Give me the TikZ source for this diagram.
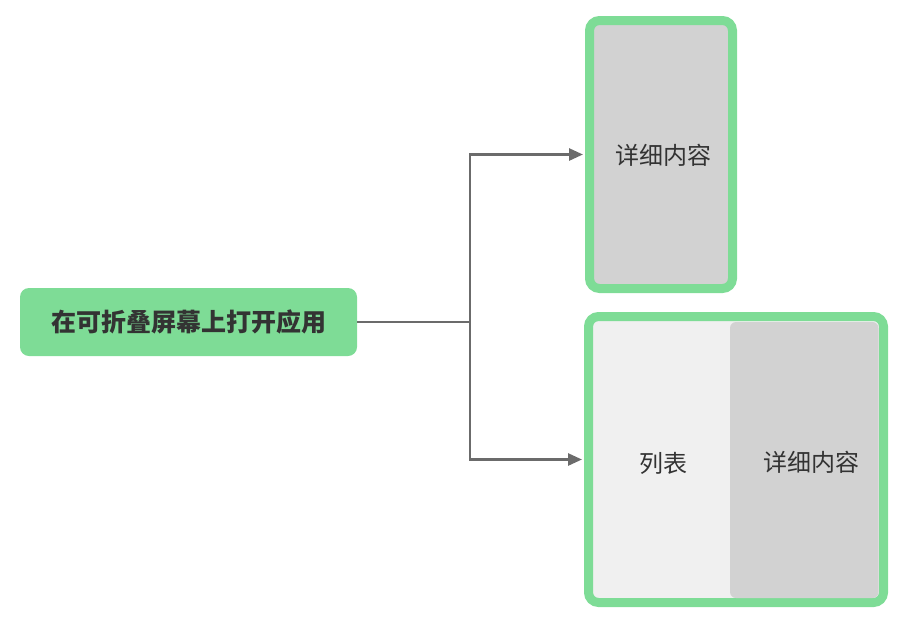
\documentclass[tikz,border=0pt]{standalone}
\usepackage{fontspec}
\newfontfamily\cjk{Noto Sans CJK SC}
\usetikzlibrary{arrows.meta}
\definecolor{gfill}{HTML}{7EDC96}
\definecolor{dgray}{HTML}{D2D2D2}
\definecolor{lgray}{HTML}{F0F0F0}
\definecolor{conn}{HTML}{6B6B6B}
\definecolor{txt}{HTML}{333333}
\begin{document}
\begin{tikzpicture}[x=1pt,y=-1pt,
  screenbox/.style={draw=gfill,line width=9pt,rounded corners=10pt,inner sep=0pt},
  lbl/.style={font=\cjk\fontsize{24}{28}\selectfont,text=txt},
  conline/.style={draw=conn,line width=2.7pt,-{Triangle[length=14pt,width=12pt]}}]
\useasboundingbox (0,0) rectangle (912,627);
\node[fill=gfill,rounded corners=9pt,minimum width=337pt,minimum height=68pt,inner sep=0pt,
  font=\cjk\bfseries\fontsize{25}{30}\selectfont,text=txt] (app) at (188.5,322) {在可折叠屏幕上打开应用};
\node[screenbox,fill=dgray,minimum width=143pt,minimum height=268pt] (top) at (661,154.5) {};
\node[lbl] (toptxt) at (663,155) {详细内容};
\node[screenbox,fill=lgray,minimum width=295pt,minimum height=286pt] (bot) at (736,459.5) {};
\fill[dgray,rounded corners=6pt] (730,322) rectangle (878.5,598);
\node[lbl] (listtxt) at (663,463) {列表};
\node[lbl] (dettxt) at (811,462) {详细内容};
\coordinate (fork) at (470,322);
\draw[draw=conn,line width=2.7pt] (app.east) -- (fork);
\draw[conline] (fork) |- ([xshift=-2pt]top.west);
\draw[conline] (fork) |- ([xshift=-2pt]bot.west);
\end{tikzpicture}
\end{document}
